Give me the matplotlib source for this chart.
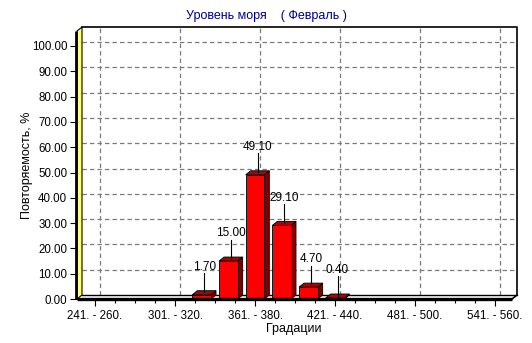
import matplotlib
matplotlib.use('Agg')
import matplotlib.pyplot as plt
from matplotlib.patches import Polygon, Rectangle
from matplotlib.ticker import FixedLocator

# ---- data ----
categories = ['241. - 260.', '261. - 280.', '281. - 300.', '301. - 320.',
              '321. - 340.', '341. - 360.', '361. - 380.', '381. - 400.',
              '401. - 420.', '421. - 440.', '441. - 460.', '461. - 480.',
              '481. - 500.', '501. - 520.', '521. - 540.', '541. - 560.']
values = [0, 0, 0, 0, 1.70, 15.00, 49.10, 29.10, 4.70, 0.40, 0, 0, 0, 0, 0, 0]
y_ticks = [0, 10, 20, 30, 40, 50, 60, 70, 80, 90, 100]
label_step = 3
title = 'Уровень моря    ( Февраль )'
xlabel = 'Градации'
ylabel = 'Повторяемость, %'

plt.rcParams['font.family'] = ['Liberation Sans', 'DejaVu Sans']

W, H = 532, 343
fig = plt.figure(figsize=(W / 100, H / 100), dpi=100)
fig.patch.set_facecolor('white')

# axes placed in pixel coordinates
L, R, T, B = 77, 517, 27, 300
ax = fig.add_axes([L / W, (H - B) / H, (R - L) / W, (B - T) / H])
px_per_cat = 80 / 3
x0 = -(95 - L) / px_per_cat
x1 = x0 + (R - L) / px_per_cat
px_per_unit = 2.53
y0 = -(B - 299) / px_per_unit
y1 = (299 - T) / px_per_unit
ax.set_xlim(x0, x1)
ax.set_ylim(y0, y1)
for s in ax.spines.values():
    s.set_visible(False)
ax.set_facecolor('none')

DX = 5 / px_per_cat
DY = 4 / px_per_unit
xf_right = x1 - DX  # front right end

# back wall grid
for v in y_ticks[1:]:
    ax.plot([x0 + DX, x1], [v + DY, v + DY], color='#7a7a7a', lw=0.9,
            dashes=(3.5, 2.5), zorder=1, clip_on=False)
major_idx = list(range(0, len(categories), label_step))
for i in major_idx:
    ax.plot([i + DX, i + DX], [DY, y1], color='#7a7a7a', lw=0.9,
            dashes=(3.5, 2.5), zorder=1, clip_on=False)

# back frame
ax.plot([x0 + DX, x1, x1, xf_right], [y1, y1, DY, 0], color='black', lw=1.2,
        zorder=2, clip_on=False)
ax.plot([x0 + DX, x1], [DY, DY], color='black', lw=1.0, zorder=2, clip_on=False)

# left wall (yellow)
wall = Polygon([(x0, 0), (x0 + DX, DY), (x0 + DX, y1), (x0, y1 - DY)],
               closed=True, facecolor='#FFFF80', edgecolor='black', lw=0.8,
               zorder=2, clip_on=False)
ax.add_patch(wall)
ax.plot([x0 - 0.03, x0 - 0.03], [0, y1 - DY], color='black', lw=2.0, zorder=6,
        clip_on=False, solid_capstyle='butt')

# front floor line
ax.plot([x0, xf_right], [0, 0], color='black', lw=2.4, zorder=6,
        clip_on=False, solid_capstyle='butt')

# bars
w = 0.7
for i, v in enumerate(values):
    if v <= 0:
        continue
    xl, xr = i - w / 2, i + w / 2
    side = Polygon([(xr, 0), (xr + DX, DY), (xr + DX, v + DY), (xr, v)],
                   closed=True, facecolor='#800000', edgecolor='black',
                   lw=0.6, zorder=4)
    top = Polygon([(xl, v), (xr, v), (xr + DX, v + DY), (xl + DX, v + DY)],
                  closed=True, facecolor='#B00000', edgecolor='black',
                  lw=0.6, zorder=4)
    front = Rectangle((xl, 0), w, v, facecolor='#FF0000', edgecolor='black',
                      lw=0.6, zorder=5)
    ax.add_patch(side)
    ax.add_patch(top)
    ax.add_patch(front)
    ax.plot([i + DX / 2, i + DX / 2], [v + DY * 0.6, v + 8.5], color='black',
            lw=0.8, zorder=6)
    ax.text(i + DX / 2, v + 11, f'{v:.2f}', ha='center', va='center',
            fontsize=8.5, color='black', zorder=7)

# y ticks
ax.yaxis.set_major_locator(FixedLocator(y_ticks))
ax.set_yticklabels([f'{v:.2f}' for v in y_ticks])
ax.tick_params(axis='y', direction='out', length=5, width=0.8, pad=2,
               labelsize=8.3)
# x ticks
ax.xaxis.set_major_locator(FixedLocator(major_idx))
ax.set_xticklabels([categories[i] for i in major_idx])
ax.xaxis.set_minor_locator(FixedLocator(
    [k * 0.75 for k in range(0, 21) if k % 4 != 0 and k * 0.75 < xf_right]))
ax.tick_params(axis='x', which='major', direction='out', length=4,
               width=0.8, pad=3, labelsize=8.3)
ax.tick_params(axis='x', which='minor', direction='out', length=2, width=0.8)
for lbl in ax.get_xticklabels():
    lbl.set_x(lbl.get_position()[0])

fig.text(266 / W, 1 - 16 / H, title, ha='center', va='center', fontsize=9,
         color='#000080')
fig.text(294 / W, 1 - 329 / H, xlabel, ha='center', va='center', fontsize=9)
fig.text(27 / W, 1 - 165 / H, ylabel, ha='center', va='center', fontsize=9,
         rotation=90)

fig.savefig('out.png', dpi=100, facecolor='white')
